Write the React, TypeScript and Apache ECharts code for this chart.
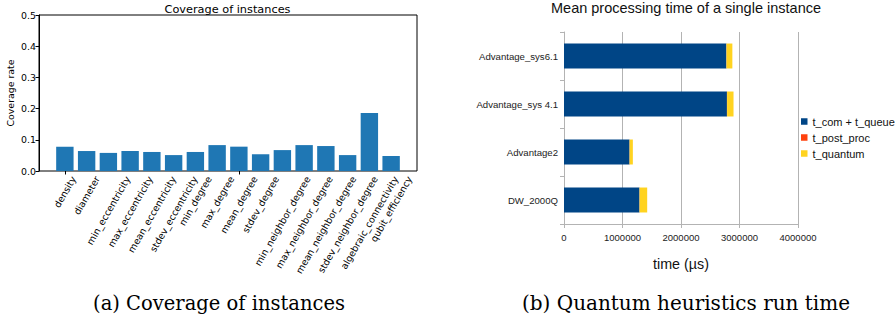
import React, { useEffect, useRef } from "react";
import * as echarts from "echarts";

// ---- Data: (a) Coverage of instances ----
const coverageCategories = [
  "density",
  "diameter",
  "min_eccentricity",
  "max_eccentricity",
  "mean_eccentricity",
  "stdev_eccentricity",
  "min_degree",
  "max_degree",
  "mean_degree",
  "stdev_degree",
  "min_neighbor_degree",
  "max_neighbor_degree",
  "mean_neighbor_degree",
  "stdev_neighbor_degree",
  "algebraic_connectivity",
  "qubit_efficiency",
];
const coverageRates = [
  0.078, 0.064, 0.058, 0.064, 0.061, 0.051, 0.061, 0.083, 0.078, 0.054, 0.067,
  0.083, 0.08, 0.051, 0.186, 0.048,
];
const coverageMax = 0.5;
const coverageStep = 0.1;

// ---- Data: (b) Mean processing time of a single instance ----
const solvers = ["Advantage_sys6.1", "Advantage_sys 4.1", "Advantage2", "DW_2000Q"];
const seriesNames = ["t_com + t_queue", "t_post_proc", "t_quantum"];
const tComQueue = [2775000, 2785000, 1120000, 1290000];
const tPostProc = [3000, 3000, 2000, 2000];
const tQuantum = [100000, 110000, 55000, 130000];
const timeMax = 4000000;
const timeStep = 1000000;

const titleA = "Coverage of instances";
const titleB = "Mean processing time of a single instance";
const captionA = "(a) Coverage of instances";
const captionB = "(b) Quantum heuristics run time";

const MPL = "'DejaVu Sans'";
const LO = "'Liberation Sans'";
const SERIF = "'DejaVu Serif'";

export default function App() {
  const ref = useRef<HTMLDivElement>(null);

  useEffect(() => {
    if (!ref.current) return;
    document.body.style.margin = "0";
    const chart = echarts.init(ref.current, undefined, { renderer: "svg" });

    const option: any = {
      animation: false,
      grid: [
        {
          left: 39,
          top: 15,
          width: 378,
          height: 156,
          show: true,
          borderColor: "#000",
          borderWidth: 1,
          backgroundColor: "rgba(0,0,0,0)",
        },
        { left: 54, top: 15, width: 348, height: 156 },
        { left: 564, top: 32, width: 234, height: 192 },
      ],
      xAxis: [
        { type: "value", gridIndex: 0, min: 0, max: 1, show: false },
        {
          type: "category",
          gridIndex: 1,
          data: coverageCategories,
          axisLine: { show: false },
          axisTick: {
            show: true,
            alignWithLabel: true,
            length: 3.5,
            lineStyle: { color: "#000" },
          },
          axisLabel: { show: false },
          splitLine: { show: false },
        },
        {
          type: "value",
          gridIndex: 2,
          min: 0,
          max: timeMax,
          interval: timeStep,
          axisLine: { show: true, lineStyle: { color: "#b3b3b3" } },
          axisTick: { show: true, length: 4, lineStyle: { color: "#b3b3b3" } },
          splitLine: { show: true, lineStyle: { color: "#b3b3b3" } },
          axisLabel: {
            margin: 8,
            fontSize: 9.5,
            fontFamily: LO,
            color: "#222",
            formatter: (v: number) => String(Math.round(v)),
          },
          name: "time (µs)",
          nameLocation: "middle",
          nameGap: 33,
          nameTextStyle: { fontSize: 14.3, fontFamily: LO, color: "#111" },
        },
      ],
      yAxis: [
        {
          type: "value",
          gridIndex: 0,
          min: 0,
          max: coverageMax,
          interval: coverageStep,
          axisLine: { show: true, lineStyle: { color: "#000" } },
          axisTick: { show: true, length: 3.5, lineStyle: { color: "#000" } },
          splitLine: { show: false },
          axisLabel: {
            margin: 3,
            fontSize: 9.4,
            fontFamily: MPL,
            color: "#000",
            formatter: (v: number) => v.toFixed(1),
          },
          name: "Coverage rate",
          nameLocation: "middle",
          nameGap: 24,
          nameTextStyle: { fontSize: 9.4, fontFamily: MPL, color: "#000" },
        },
        {
          type: "value",
          gridIndex: 1,
          min: 0,
          max: coverageMax,
          show: false,
        },
        {
          type: "category",
          gridIndex: 2,
          inverse: true,
          data: solvers,
          axisLine: { show: true, lineStyle: { color: "#b3b3b3" } },
          axisTick: {
            show: true,
            length: 4,
            interval: 0,
            lineStyle: { color: "#b3b3b3" },
          },
          splitLine: { show: false },
          axisLabel: {
            margin: 6,
            fontSize: 9.6,
            fontFamily: LO,
            color: "#222",
          },
        },
      ],
      legend: {
        orient: "vertical",
        left: 796,
        top: 110.5,
        itemWidth: 6.5,
        itemHeight: 6.5,
        itemGap: 4,
        icon: "rect",
        selectedMode: false,
        data: seriesNames,
        textStyle: {
          fontSize: 11,
          fontFamily: LO,
          color: "#111",
          lineHeight: 12,
        },
      },
      series: [
        {
          type: "bar",
          xAxisIndex: 1,
          yAxisIndex: 1,
          data: coverageRates,
          barWidth: "80%",
          itemStyle: { color: "#1f77b4" },
        },
        {
          type: "bar",
          name: seriesNames[0],
          stack: "time",
          xAxisIndex: 2,
          yAxisIndex: 2,
          data: tComQueue,
          barCategoryGap: "48%",
          itemStyle: { color: "#004586" },
        },
        {
          type: "bar",
          name: seriesNames[1],
          stack: "time",
          xAxisIndex: 2,
          yAxisIndex: 2,
          data: tPostProc,
          barCategoryGap: "48%",
          itemStyle: { color: "#ff420e" },
        },
        {
          type: "bar",
          name: seriesNames[2],
          stack: "time",
          xAxisIndex: 2,
          yAxisIndex: 2,
          data: tQuantum,
          barCategoryGap: "48%",
          itemStyle: { color: "#ffd320" },
        },
      ],
    };
    chart.setOption(option);

    // Rotated x labels mimicking matplotlib (rotation 60, ha="center", va="top")
    const canvas = document.createElement("canvas");
    const ctx = canvas.getContext("2d")!;
    const labelFont = `9.4px ${MPL}`;
    ctx.font = labelFont;
    const h = 8;
    const pad = 4;
    const labelEls: any[] = coverageCategories.map((name, i) => {
      const p = chart.convertToPixel({ gridIndex: 1 } as any, [i, 0]) as number[];
      const L = ctx.measureText(name).width;
      return {
        type: "text",
        x: p[0] + L / 4,
        y: p[1] + pad + h / 4,
        rotation: Math.PI / 3,
        style: {
          text: name,
          font: labelFont,
          fill: "#000",
          align: "right",
          verticalAlign: "middle",
          textAlign: "right",
          textVerticalAlign: "middle",
        },
      };
    });

    const txt = (text: string, x: number, y: number, font: string, fill: string) => ({
      type: "text",
      x,
      y,
      style: {
        text,
        font,
        fill,
        align: "center",
        verticalAlign: "middle",
        textAlign: "center",
        textVerticalAlign: "middle",
      },
    });

    chart.setOption({
      graphic: {
        elements: [
          txt(titleA, 227.5, 9.5, `11.3px ${MPL}`, "#000"),
          txt(titleB, 686, 7.5, `14.5px ${LO}`, "#111"),
          txt(captionA, 219, 303, `19.5px ${SERIF}`, "#000"),
          txt(captionB, 686, 303, `20px ${SERIF}`, "#000"),
          ...labelEls,
        ],
      },
    });

    return () => chart.dispose();
  }, []);

  return (
    <div
      ref={ref}
      style={{ position: "absolute", left: 0, top: 0, width: 896, height: 320 }}
    />
  );
}
